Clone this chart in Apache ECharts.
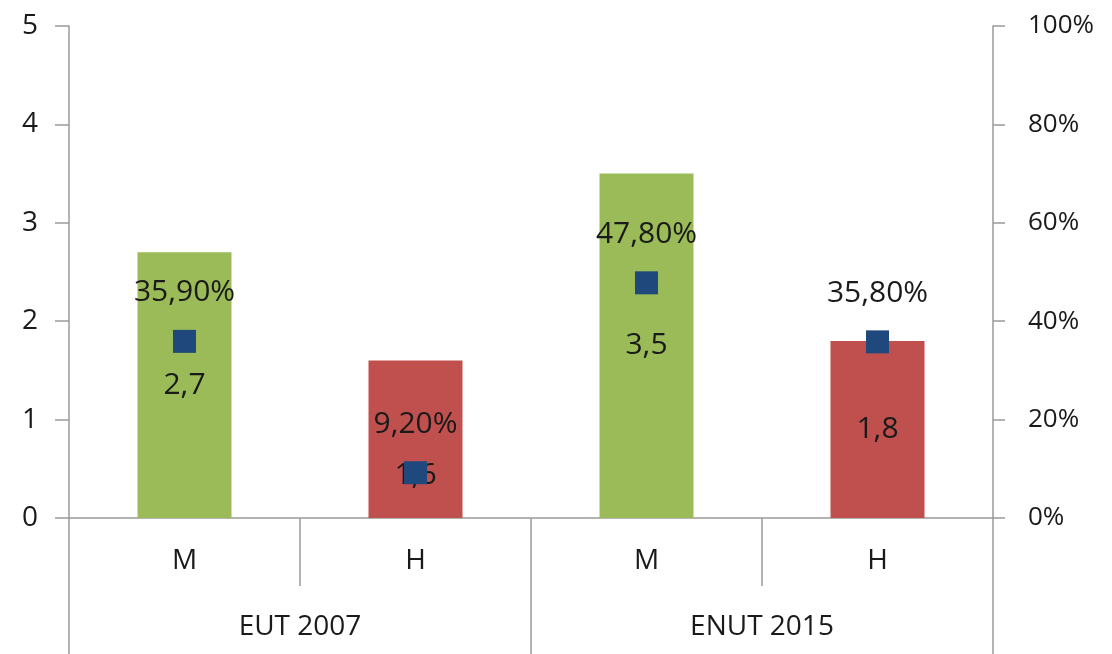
<!DOCTYPE html>
<html>
<head>
<meta charset="utf-8">
<script src="https://cdn.jsdelivr.net/npm/echarts@6/dist/echarts.min.js"></script>
<style>
  html, body { margin: 0; padding: 0; background: #fff; }
  #chart { width: 1112px; height: 654px; }
</style>
</head>
<body>
<div id="chart"></div>
<script>
// categories (two levels) and values
const categories = ["M", "H", "M", "H"];
const groups = ["EUT 2007", "ENUT 2015"];
const barValues = [2.7, 1.6, 3.5, 1.8];
const shareValues = [35.9, 9.2, 47.8, 35.8]; // percent, right axis
const barColors = ["#9BBB59", "#C0504D", "#9BBB59", "#C0504D"];

const FONT = "Open Sans";
const TEXT = "#1a1a1a";
const AXIS = "#9a9a9a";

const fmtComma = (v, digits) => v.toFixed(digits).replace(".", ",");

const chart = echarts.init(document.getElementById("chart"));

const option = {
  animation: false,
  grid: {
    left: 69,
    right: 119,
    top: 26,
    bottom: 136,
    outerBoundsMode: "none",
  },
  xAxis: [
    {
      type: "category",
      data: categories,
      position: "bottom",
      axisLine: { show: true, lineStyle: { color: AXIS, width: 1.5 } },
      axisTick: { show: true, length: 68, lineStyle: { color: AXIS, width: 1.5 } },
      axisLabel: { color: TEXT, fontFamily: FONT, fontSize: 28, margin: 29 },
      splitLine: { show: false },
    },
    {
      type: "category",
      data: groups,
      position: "bottom",
      axisLine: { show: false },
      axisTick: { show: true, length: 140, lineStyle: { color: AXIS, width: 1.5 } },
      axisLabel: { color: TEXT, fontFamily: FONT, fontSize: 28, margin: 95 },
      splitLine: { show: false },
    },
  ],
  yAxis: [
    {
      type: "value",
      min: 0,
      max: 5,
      interval: 1,
      position: "left",
      axisLine: { show: true, lineStyle: { color: AXIS, width: 1.5 } },
      axisTick: { show: true, length: 14, lineStyle: { color: AXIS, width: 1.5 } },
      axisLabel: { color: TEXT, fontFamily: FONT, fontSize: 28, margin: 31 },
      splitLine: { show: false },
    },
    {
      type: "value",
      min: 0,
      max: 100,
      interval: 20,
      position: "right",
      axisLine: { show: true, lineStyle: { color: AXIS, width: 1.5 } },
      axisTick: { show: true, length: 12, lineStyle: { color: AXIS, width: 1.5 } },
      axisLabel: {
        color: TEXT,
        fontFamily: FONT,
        fontSize: 26,
        margin: 35,
        formatter: "{value}%",
      },
      splitLine: { show: false },
    },
  ],
  series: [
    {
      name: "Horas",
      type: "bar",
      xAxisIndex: 0,
      yAxisIndex: 0,
      barWidth: 94,
      data: barValues.map((v, i) => ({
        value: v,
        itemStyle: { color: barColors[i] },
        // the 1,6 label sits lower in the original
        label: i === 1 ? { offset: [0, 36] } : undefined,
      })),
      label: {
        show: true,
        position: "inside",
        color: TEXT,
        fontFamily: FONT,
        fontSize: 30,
        formatter: (p) => fmtComma(p.value, 1),
      },
      z: 2,
    },
    {
      name: "Porcentaje",
      type: "scatter",
      xAxisIndex: 0,
      yAxisIndex: 1,
      symbol: "rect",
      symbolSize: 23,
      itemStyle: { color: "#1F497D", opacity: 1 },
      data: shareValues,
      label: {
        show: true,
        position: "top",
        distance: 22,
        color: TEXT,
        fontFamily: FONT,
        fontSize: 30,
        formatter: (p) => fmtComma(p.value, 2) + "%",
      },
      z: 3,
    },
  ],
};

chart.setOption(option);
</script>
</body>
</html>
